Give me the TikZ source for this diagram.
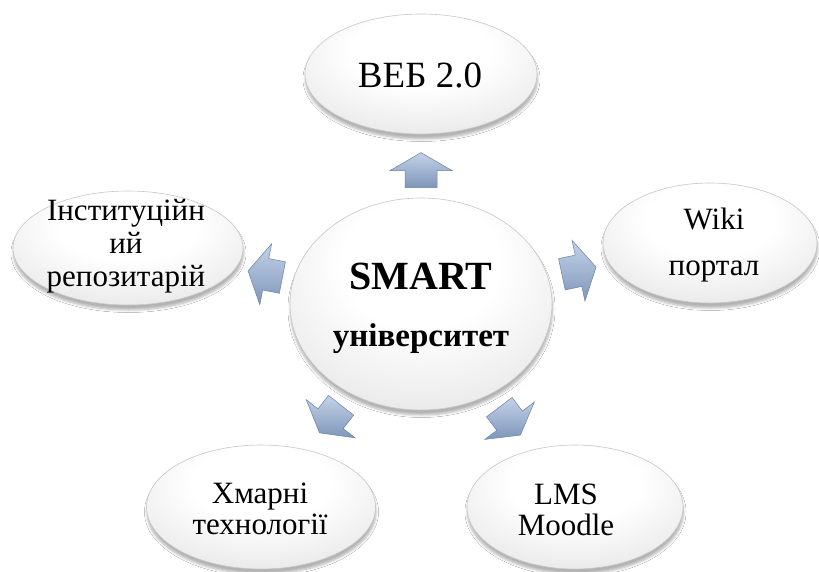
\documentclass[tikz,border=0pt]{standalone}
\usepackage{fontspec}
\setmainfont{Liberation Serif}
\usetikzlibrary{shapes.geometric,shadows.blur,calc}
\pgfdeclareradialshading{bubbleshade}{\pgfpoint{0bp}{12bp}}{color(0bp)=(white); color(15bp)=(white); color(30bp)=(black!7); color(42bp)=(black!15); color(52bp)=(black!26); color(58bp)=(black!37); color(64bp)=(black!48); color(75bp)=(black!50)}
\definecolor{arrowlight}{HTML}{C3D2E8}
\definecolor{arrowdark}{HTML}{7F96BA}
\definecolor{arrowedge}{HTML}{6A82A8}
\tikzset{
  bubble/.style={ellipse, draw=black!22, line width=0.6pt, shading=bubbleshade, inner sep=0pt,
    blur shadow={shadow xshift=0.5pt, shadow yshift=-5pt, shadow blur steps=6, shadow blur radius=2.5pt, shadow opacity=30}},
  label text/.style={align=center, inner sep=0pt, text=black},
  blockarrow/.pic={
    \path[draw=arrowedge, line width=0.5pt, top color=arrowlight, bottom color=arrowdark]
      (-17,-16) -- (0,-16) -- (0,-31) -- (18,0) -- (0,31) -- (0,16) -- (-17,16) -- cycle;
  }
}
\begin{document}
\begin{tikzpicture}[x=1pt,y=-1pt]
\useasboundingbox[fill=white] (0,0) rectangle (819,572);

% ellipses
\node[bubble, minimum width=232pt, minimum height=120pt] (web) at (421,74) {};
\node[bubble, minimum width=214pt, minimum height=120pt] (wiki) at (710,243) {};
\node[bubble, minimum width=230pt, minimum height=114pt] (repo) at (128,248) {};
\node[bubble, minimum width=229pt, minimum height=124pt] (cloud) at (261,507) {};
\node[bubble, minimum width=216pt, minimum height=124pt] (lms) at (575,507) {};
\node[bubble, minimum width=262pt, minimum height=212pt] (smart) at (421,304) {};

% arrows
\pic[rotate=90]    at ($(smart.center)!0.58!(web.center)$)   {blockarrow};
\pic[rotate=12]    at ($(smart.center)!0.545!(wiki.center)$) {blockarrow};
\pic[rotate=169]   at ($(smart.center)!0.53!(repo.center)$)  {blockarrow};
\pic[rotate=-128]  at ($(smart.center)!0.565!(cloud.center)$) {blockarrow};
\pic[rotate=-53]   at ($(smart.center)!0.575!(lms.center)$)  {blockarrow};

% texts
\node[label text, font=\fontsize{37}{42}\selectfont] (webt) at (420,75.5) {ВЕБ 2.0};
\node[label text, font=\fontsize{31}{46}\selectfont] (wikit) at (714,245) {Wiki\\портал};
\node[label text, font=\fontsize{31}{33}\selectfont] (repot) at (126,246) {Інституційн\\ий\\репозитарій};
\node[label text, font=\fontsize{31}{31}\selectfont] (cloudt) at (260,509) {Хмарні\\технології};
\node[label text, font=\fontsize{31}{31}\selectfont] (lmst) at (566,510) {LMS\\Moodle};
\node[label text, font=\bfseries\fontsize{40}{57}\selectfont] (smartt) at (421,308) {SMART\\{\fontsize{33}{57}\selectfont університет}};
\end{tikzpicture}
\end{document}
